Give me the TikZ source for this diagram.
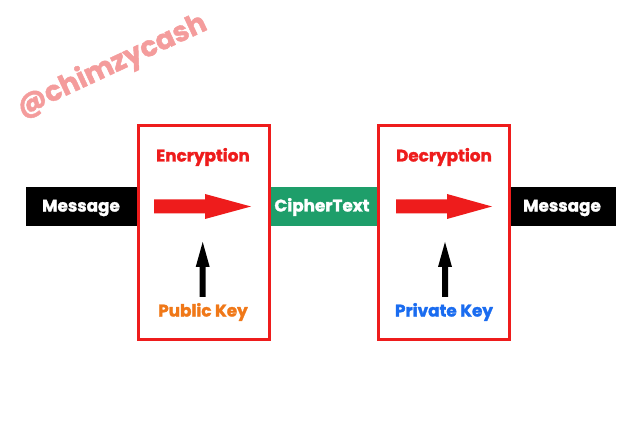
\documentclass[tikz,border=0pt]{standalone}
\usepackage{fontspec}
\setmainfont{Poppins}[BoldFeatures={FakeBold=1.6}]
\definecolor{boxred}{HTML}{EE1C1C}
\definecolor{cgreen}{HTML}{1E9E6A}
\definecolor{korange}{HTML}{F07818}
\definecolor{kblue}{HTML}{1A6CF0}
\definecolor{wmark}{HTML}{F49C9C}
\begin{document}
\begin{tikzpicture}[x=1pt,y=-1pt,
  lbl/.style={font=\fontsize{16.8}{20}\selectfont\bfseries},
  bar/.style={inner sep=0pt, minimum height=39pt, anchor=north west},
  frame/.style={draw=boxred, line width=3pt, fill=white, inner sep=0pt, minimum width=131pt, minimum height=214pt, anchor=north west}]
\useasboundingbox (0,0) rectangle (640,427);
% watermark
\node[rotate=25, text=wmark, font=\fontsize{28}{32}\selectfont\bfseries] (wm) at (112,66) {@chimzycash};
% bars
\node[bar, fill=black, minimum width=115pt] (msg1) at (26,187) {};
\node[lbl, text=white] (msg1t) at (81,208) {Message};
\node[bar, fill=cgreen, minimum width=109pt] (ct) at (268,187) {};
\node[lbl, text=white] (ctt) at (322,207) {CipherText};
\node[bar, fill=black, minimum width=108pt] (msg2) at (508,187) {};
\node[lbl, text=white] (msg2t) at (562,208) {Message};
% frames
\node[frame] (enc) at (137,124) {};
\node[frame] (dec) at (377,124) {};
% titles
\node[lbl, text=boxred] (enct) at (203,157) {Encryption};
\node[lbl, text=boxred] (dect) at (444,157) {Decryption};
\node[lbl, text=korange] (pub) at (203,312) {Public Key};
\node[lbl, text=kblue] (priv) at (444,312) {Private Key};
% red arrows
\fill[boxred] (154,199.5) -- (205,199.5) -- (205,194) -- (251,206.5) -- (205,219) -- (205,213.5) -- (154,213.5) -- cycle;
\fill[boxred] (396,199.5) -- (447,199.5) -- (447,194) -- (492,206.5) -- (447,219) -- (447,213.5) -- (396,213.5) -- cycle;
% black up arrows
\fill[black] (199.7,297) -- (199.7,267) -- (195.7,267) -- (202.7,242) -- (209.7,267) -- (205.7,267) -- (205.7,297) -- cycle;
\fill[black] (442,297) -- (442,267) -- (438,267) -- (445,242) -- (452,267) -- (448,267) -- (448,297) -- cycle;
\end{tikzpicture}
\end{document}
